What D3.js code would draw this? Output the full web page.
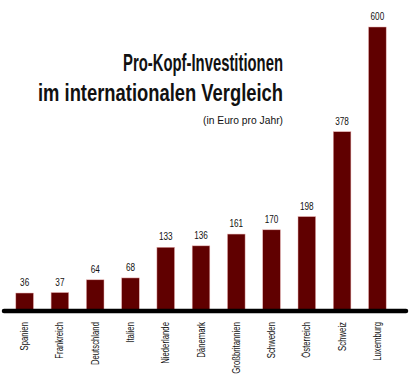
<!DOCTYPE html>
<html lang="de">
<head>
  <meta charset="UTF-8">
  <title>Pro-Kopf-Investitionen</title>
  <script src="https://d3js.org/d3.v7.min.js"></script>
  <style>
    body { margin: 0; background: #fff; }
    text { font-family: "Liberation Sans", Arial, sans-serif; fill: #111; }
  </style>
</head>
<body>
  <svg id="chart" width="409" height="376"></svg>
  <script>
    const countries = ["Spanien", "Frankreich", "Deutschland", "Italien", "Niederlande", "Dänemark",
      "Großbritannien", "Schweden", "Österreich", "Schweiz", "Luxemburg"];
    const values = [36, 37, 64, 68, 133, 136, 161, 170, 198, 378, 600];

    const svg = d3.select("#chart");
    const baseY = 310;
    const squeeze = 0.78; // condensed look

    const x = d3.scaleBand().domain(countries).range([7, 395]).paddingInner(0.5).paddingOuter(0.25);
    const y = d3.scaleLinear().domain([0, 600]).range([baseY, 27]);

    // title, squeezed into the widths of the original
    svg.append("text").attr("x", 283).attr("y", 71).attr("text-anchor", "end")
      .attr("textLength", 160).attr("lengthAdjust", "spacingAndGlyphs")
      .style("font-size", "24px").style("font-weight", "bold").text("Pro-Kopf-Investitionen");
    svg.append("text").attr("x", 283).attr("y", 101).attr("text-anchor", "end")
      .attr("textLength", 245).attr("lengthAdjust", "spacingAndGlyphs")
      .style("font-size", "24px").style("font-weight", "bold").text("im internationalen Vergleich");
    svg.append("text").attr("x", 283).attr("y", 124).attr("text-anchor", "end")
      .attr("textLength", 80).attr("lengthAdjust", "spacingAndGlyphs")
      .style("font-size", "11.5px").text("(in Euro pro Jahr)");

    svg.selectAll(".bar").data(values).enter().append("rect")
      .attr("x", (d, i) => x(countries[i]))
      .attr("width", x.bandwidth())
      .attr("y", d => y(d))
      .attr("height", d => baseY - y(d))
      .attr("fill", "#600000")
      .attr("stroke", "#e8b0b0")
      .attr("stroke-width", 0.5);

    svg.selectAll(".val").data(values).enter().append("text")
      .attr("transform", (d, i) => `translate(${x(countries[i]) + x.bandwidth() / 2},${y(d) - 7}) scale(${squeeze},1)`)
      .attr("text-anchor", "middle")
      .style("font-size", "10.5px")
      .text(d => d);

    svg.selectAll(".cat").data(countries).enter().append("text")
      .attr("transform", d => `translate(${x(d) + x.bandwidth() / 2 + 3.5},322) rotate(-90) scale(0.74,1)`)
      .attr("text-anchor", "end")
      .style("font-size", "10.5px")
      .text(d => d);

    svg.append("line").attr("x1", 4).attr("x2", 406).attr("y1", baseY + 1).attr("y2", baseY + 1)
      .attr("stroke", "#000").attr("stroke-width", 4.5).attr("stroke-linecap", "round");
  </script>
</body>
</html>
